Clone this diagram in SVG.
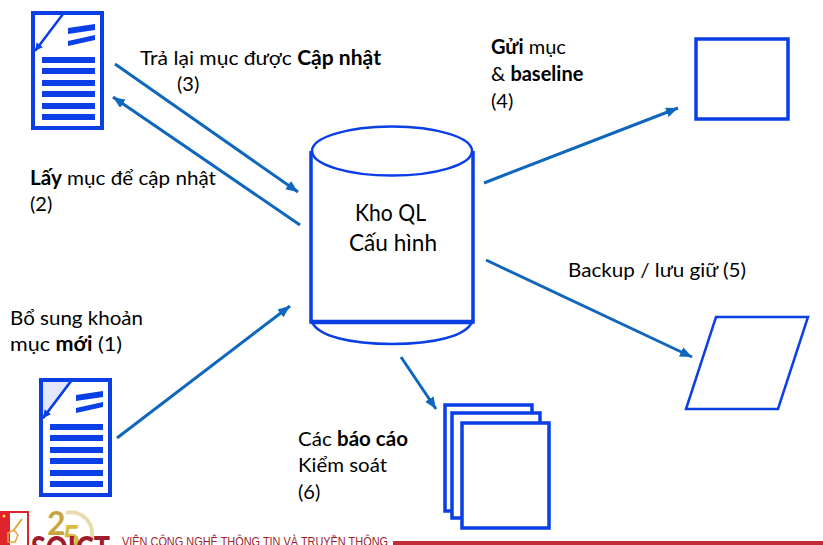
<svg xmlns="http://www.w3.org/2000/svg" xmlns:xlink="http://www.w3.org/1999/xlink" width="823" height="545" viewBox="0 0 823 545">
<style>
text{font-family:Lato,"Open Sans","Liberation Sans",sans-serif;font-size:20px;fill:#000}
.b{font-weight:700}
.big{font-size:23px}
.box{fill:#fff;stroke:#0a3fe6;stroke-width:3.5}
.bar{fill:#0a3fe6}
.conn{fill:none;stroke:#0f67bd;stroke-width:3;marker-end:url(#ah)}
.cyl{fill:#fff;stroke:#0a3fe6;stroke-width:2.5}
</style>
<defs>
<marker id="ah" markerUnits="userSpaceOnUse" markerWidth="14" markerHeight="12" refX="12" refY="5" orient="auto"><path d="M0 0L12 5L0 10z" fill="#0f67bd"/></marker>
<marker id="fa" markerUnits="userSpaceOnUse" markerWidth="10" markerHeight="10" refX="8" refY="4" orient="auto"><path d="M0 0L8 4L0 8z" fill="#0a3fe6"/></marker>
<g id="docshape">
<rect class="box" x="33" y="13" width="69" height="115" style="stroke-width:4"/>
<path d="M63 14L35 51" fill="none" stroke="#0a3fe6" stroke-width="2.500" marker-end="url(#fa)"/>
<path d="M68 28L95 24V30L68 34zM68 41L95 35V40L68 46z" class="bar"/>
<rect class="bar" x="42" y="57" width="53" height="6"/><rect class="bar" x="42" y="68" width="53" height="6"/>
<rect class="bar" x="42" y="80" width="53" height="6"/><rect class="bar" x="42" y="91" width="53" height="6"/>
<rect class="bar" x="42" y="103" width="53" height="6"/><rect class="bar" x="42" y="114" width="53" height="6"/>
</g>
</defs>
<rect width="823" height="545" fill="#fff"/>
<g id="connectors">
<line class="conn" x1="115" y1="64" x2="298" y2="192"/>
<line class="conn" x1="300" y1="225" x2="113" y2="97"/>
<line class="conn" x1="117" y1="438" x2="290" y2="306"/>
<line class="conn" x1="484" y1="183" x2="678" y2="108"/>
<line class="conn" x1="486" y1="260" x2="692" y2="357"/>
<line class="conn" x1="401" y1="357" x2="436" y2="409"/>
</g>
<g id="doc-top"><use xlink:href="#docshape" href="#docshape"/></g>
<g id="doc-bottom"><use xlink:href="#docshape" href="#docshape" x="8" y="367"/><path d="M43 382H70L43 417z" fill="#e4e6fb"/><path d="M71 381L43 418" fill="none" stroke="#0a3fe6" stroke-width="2.500" marker-end="url(#fa)"/></g>
<g id="repository">
<path class="cyl" d="M312 322C318 336 350 344 392 344C434 344 466 336 472 322"/>
<ellipse class="cyl" cx="392" cy="151" rx="80" ry="24.500"/>
<path d="M311 151V322H473V151" fill="none" stroke="#0a3fe6" stroke-width="3.500"/>
<path d="M311 322H473" stroke="#0a3fe6" stroke-width="4.500"/>
<text class="big" x="355" y="221" textLength="71" lengthAdjust="spacingAndGlyphs">Kho QL</text>
<text class="big" x="349" y="251" textLength="88" lengthAdjust="spacingAndGlyphs">Cấu hình</text>
</g>
<g id="target-box"><rect class="box" x="696" y="39" width="92" height="80"/></g>
<g id="backup"><path d="M716 317H808L778 409H686z" fill="#fff" stroke="#0a3fe6" stroke-width="2.500"/></g>
<g id="reports">
<rect class="box" x="445" y="405" width="87" height="106"/>
<rect class="box" x="452" y="413" width="88" height="105"/>
<rect class="box" x="462" y="423" width="87" height="105"/>
</g>
<g id="labels">
<text x="140" y="65" textLength="241" lengthAdjust="spacingAndGlyphs">Trả lại mục được <tspan class="b">Cập nhật</tspan></text>
<text x="177" y="91">(3)</text>
<text x="30" y="185" textLength="186" lengthAdjust="spacingAndGlyphs"><tspan class="b">Lấy</tspan> mục để cập nhật</text>
<text x="30" y="211">(2)</text>
<text x="491" y="54"><tspan class="b">Gửi</tspan> mục</text>
<text x="491" y="81">&amp; <tspan class="b">baseline</tspan></text>
<text x="491" y="108">(4)</text>
<text x="568" y="277" textLength="178" lengthAdjust="spacingAndGlyphs">Backup / lưu giữ (5)</text>
<text x="10" y="325" textLength="133" lengthAdjust="spacingAndGlyphs">Bổ sung khoản</text>
<text x="10" y="351" textLength="112" lengthAdjust="spacingAndGlyphs">mục <tspan class="b">mới</tspan> (1)</text>
<text x="298" y="446" textLength="110" lengthAdjust="spacingAndGlyphs">Các <tspan class="b">báo cáo</tspan></text>
<text x="298" y="472" textLength="89" lengthAdjust="spacingAndGlyphs">Kiểm soát</text>
<text x="298" y="499">(6)</text>
</g>
<g id="footer">
<rect x="0" y="511" width="29" height="34" fill="#e0242c"/>
<rect x="10" y="513" width="17" height="32" fill="#fff"/>
<path d="M13 531L22 519" fill="none" stroke="#e8a33a" stroke-width="2"/>
<path d="M8 533L14 530L18 535L15 542L8 542z" fill="none" stroke="#e8a33a" stroke-width="1.500"/>
<circle cx="4" cy="516" r="1.500" fill="#ffe04a"/>
<path d="M66 513A21 21 0 0 1 91 540" fill="none" stroke="#e8dcae" stroke-width="4"/>
<text x="47" y="535" style="font-size:32px;font-weight:700;fill:#c9a53f">2</text>
<text x="62" y="549" style="font-size:32px;font-weight:700;fill:#d9bc3f">5</text>
<text x="31" y="560" textLength="79" lengthAdjust="spacingAndGlyphs" style="font-size:32px;font-weight:900;fill:#a01c2c">SOICT</text>
<text x="122" y="546" textLength="266" lengthAdjust="spacingAndGlyphs" style="font-family:'Liberation Sans',sans-serif;font-size:13px;fill:#a01c2c">VIỆN CÔNG NGHỆ THÔNG TIN VÀ TRUYỀN THÔNG</text>
<rect x="393" y="541" width="430" height="4" fill="#c02c3a"/>
</g>
</svg>
